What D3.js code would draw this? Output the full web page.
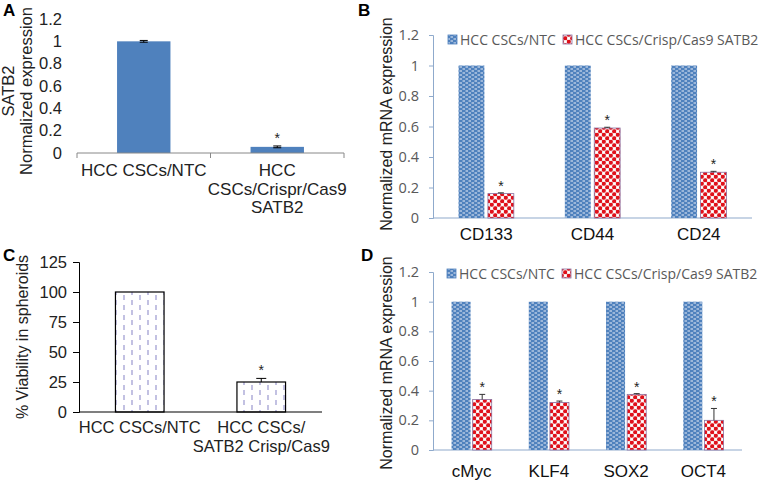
<!DOCTYPE html>
<html><head><meta charset="utf-8">
<script src="https://cdn.jsdelivr.net/npm/d3@7/dist/d3.min.js"></script>
<style>body{margin:0;background:#fff}svg{display:block}</style>
</head><body>
<svg id="c" width="776" height="483"></svg>
<script>
// ---------- DATA ----------
const aCategories = [["HCC CSCs/NTC"], ["HCC", "CSCs/Crispr/Cas9", "SATB2"]];
const aValues = [1.0, 0.055];
const aErrors = [0.008, 0.008];
const aTicks = [0, 0.2, 0.4, 0.6, 0.8, 1, 1.2];

const seriesNames = ["HCC CSCs/NTC", "HCC CSCs/Crisp/Cas9 SATB2"];

const bCategories = ["CD133", "CD44", "CD24"];
const bNTC = [1, 1, 1];
const bKO = [0.16, 0.59, 0.30];
const bKOErr = [0.005, 0.005, 0.006];
const bTicks = [0, 0.2, 0.4, 0.6, 0.8, 1, 1.2];

const cCategories = [["HCC CSCs/NTC"], ["HCC CSCs/", "SATB2 Crisp/Cas9"]];
const cValues = [100, 25];
const cErrors = [0, 3];
const cTicks = [0, 25, 50, 75, 100, 125];

const dCategories = ["cMyc", "KLF4", "SOX2", "OCT4"];
const dNTC = [1, 1, 1, 1];
const dKO = [0.34, 0.32, 0.375, 0.20];
const dKOErr = [0.035, 0.01, 0.005, 0.08];
const dTicks = [0, 0.2, 0.4, 0.6, 0.8, 1, 1.2];

// ---------- SETUP ----------
const svg = d3.select("#c");
const ARIAL = "'Liberation Sans', Arial, sans-serif";
const CAL = "'Open Sans', 'Noto Sans', sans-serif";
const defs = svg.append("defs");

// blue brick-dash pattern
const pb = defs.append("pattern").attr("id", "pBlue").attr("patternUnits", "userSpaceOnUse")
  .attr("width", 6).attr("height", 4);
pb.append("rect").attr("width", 6).attr("height", 4).attr("fill", "#4f81bd");
pb.append("rect").attr("x", 0.5).attr("y", 0.5).attr("width", 2.5).attr("height", 1).attr("fill", "#e8eef7");
pb.append("rect").attr("x", 3.5).attr("y", 2.5).attr("width", 2.5).attr("height", 1).attr("fill", "#e8eef7");

// red circle checker pattern
const pr = defs.append("pattern").attr("id", "pRed").attr("patternUnits", "userSpaceOnUse")
  .attr("width", 7).attr("height", 7);
pr.append("rect").attr("width", 7).attr("height", 7).attr("fill", "#f4d6d6");
pr.append("circle").attr("cx", 1.75).attr("cy", 1.75).attr("r", 2.1).attr("fill", "#e0101a");
pr.append("circle").attr("cx", 5.25).attr("cy", 5.25).attr("r", 2.1).attr("fill", "#e0101a");
pr.append("circle").attr("cx", 5.25).attr("cy", 1.75).attr("r", 1.2).attr("fill", "#fff");
pr.append("circle").attr("cx", 1.75).attr("cy", 5.25).attr("r", 1.2).attr("fill", "#fff");

// lavender dashed vertical pattern
const pl = defs.append("pattern").attr("id", "pLav").attr("patternUnits", "userSpaceOnUse")
  .attr("width", 16).attr("height", 10);
pl.append("rect").attr("width", 16).attr("height", 10).attr("fill", "#fff");
pl.append("line").attr("x1", 4).attr("x2", 4).attr("y1", 0).attr("y2", 5).attr("stroke", "#9a98cf").attr("stroke-width", 1.2);
pl.append("line").attr("x1", 12).attr("x2", 12).attr("y1", 5).attr("y2", 10).attr("stroke", "#9a98cf").attr("stroke-width", 1.2);

function panelLabel(t, x, y) {
  svg.append("text").attr("x", x).attr("y", y).text(t)
    .attr("font-family", ARIAL).attr("font-weight", "bold").attr("font-size", 17).attr("fill", "#000");
}
function rotLabel(lines, x, y, size, lh) {
  const t = svg.append("text").attr("transform", `translate(${x},${y}) rotate(-90)`)
    .attr("text-anchor", "middle").attr("font-family", ARIAL).attr("font-size", size).attr("fill", "#222");
  lines.forEach((l, i) => t.append("tspan").attr("x", 0).attr("dy", i === 0 ? 0 : lh).text(l));
}
function errBar(g, x, yTop, yBot, cap, color) {
  g.append("line").attr("x1", x).attr("x2", x).attr("y1", yTop).attr("y2", yBot).attr("stroke", color).attr("stroke-width", 1);
  g.append("line").attr("x1", x - cap).attr("x2", x + cap).attr("y1", yTop).attr("y2", yTop).attr("stroke", color).attr("stroke-width", 1);
}
function star(x, y) {
  svg.append("text").attr("x", x).attr("y", y).attr("text-anchor", "middle").text("*")
    .attr("font-family", ARIAL).attr("font-size", 14).attr("fill", "#222");
}

// ---------- PANEL A ----------
{
  const x = d3.scaleBand().domain(d3.range(aValues.length)).range([77, 344]).paddingInner(0.6).paddingOuter(0.3);
  const y = d3.scaleLinear().domain([0, 1.2]).range([153, 19]);
  const g = svg.append("g");
  const ya = d3.axisLeft(y).tickValues(aTicks).tickSize(0).tickPadding(8).tickFormat(d3.format("~g"));
  const yg = g.append("g").attr("transform", "translate(70,0)").call(ya);
  yg.select(".domain").remove();
  yg.selectAll("text").attr("font-family", ARIAL).attr("font-size", 16.5).attr("fill", "#222");
  g.selectAll("rect.bar").data(aValues).join("rect").attr("class", "bar")
    .attr("x", (d, i) => x(i)).attr("width", x.bandwidth())
    .attr("y", d => y(d)).attr("height", d => y(0) - y(d)).attr("fill", "#4f81bd");
  g.append("line").attr("x1", 77).attr("x2", 344).attr("y1", y(0)).attr("y2", y(0)).attr("stroke", "#888");
  [77, 210.5, 344].forEach(t => g.append("line").attr("x1", t).attr("x2", t).attr("y1", y(0)).attr("y2", y(0) + 5).attr("stroke", "#888"));
  aValues.forEach((v, i) => {
    const cx = x(i) + x.bandwidth() / 2;
    errBar(g, cx, y(v + aErrors[i]), y(v - aErrors[i]), 4, "#000");
    g.append("line").attr("x1", cx - 4).attr("x2", cx + 4).attr("y1", y(v - aErrors[i])).attr("y2", y(v - aErrors[i])).attr("stroke", "#000");
  });
  star(x(1) + x.bandwidth() / 2, y(aValues[1] + aErrors[1]) - 3);
  aCategories.forEach((lines, i) => {
    const cx = x(i) + x.bandwidth() / 2;
    const t = g.append("text").attr("x", cx).attr("y", 176).attr("text-anchor", "middle")
      .attr("font-family", ARIAL).attr("font-size", 17).attr("fill", "#222");
    lines.forEach((l, j) => t.append("tspan").attr("x", cx).attr("dy", j === 0 ? 0 : 18.5).text(l));
  });
  rotLabel(["SATB2", "Normalized expression"], 14, 91, 16.5, 18);
  panelLabel("A", 3, 16);
}

// ---------- grouped panels B / D ----------
function grouped(cats, ntc, ko, koErr, ticks, opt) {
  const x0 = d3.scaleBand().domain(cats).range([opt.x0, opt.x1]).paddingInner(opt.pad).paddingOuter(opt.pad / 2);
  const x1 = d3.scaleBand().domain([0, 1]).range([0, x0.bandwidth()]).paddingInner(opt.gap);
  const y = d3.scaleLinear().domain([0, 1.2]).range([opt.yb, opt.yt]);
  const g = svg.append("g");
  const axisCol = "#8faacc";
  const ya = d3.axisLeft(y).tickValues(ticks).tickSize(4).tickPadding(10).tickFormat(d3.format("~g"));
  const yg = g.append("g").attr("transform", `translate(${opt.x0},0)`).call(ya);
  yg.select(".domain").attr("stroke", axisCol);
  yg.selectAll(".tick line").attr("stroke", axisCol);
  yg.selectAll("text").attr("font-family", CAL).attr("font-size", 14.5).attr("fill", "#595959");
  g.append("line").attr("x1", opt.x0).attr("x2", opt.x1).attr("y1", y(0)).attr("y2", y(0)).attr("stroke", axisCol).attr("stroke-width", 1.2);
  cats.forEach((c, i) => {
    const bx = x0(c);
    g.append("rect").attr("x", bx + x1(0)).attr("width", x1.bandwidth())
      .attr("y", y(ntc[i])).attr("height", y(0) - y(ntc[i])).attr("fill", "url(#pBlue)");
    g.append("rect").attr("x", bx + x1(1)).attr("width", x1.bandwidth())
      .attr("y", y(ko[i])).attr("height", y(0) - y(ko[i])).attr("fill", "url(#pRed)")
      .attr("stroke", "#8a6f9e").attr("stroke-width", 0.8);
    const cx = bx + x1(1) + x1.bandwidth() / 2;
    errBar(g, cx, y(ko[i] + koErr[i]), y(ko[i]), 3, "#333");
    star(cx, y(ko[i] + koErr[i]) - 2);
    g.append("text").attr("x", bx + x0.bandwidth() / 2).attr("y", opt.labY).attr("text-anchor", "middle")
      .attr("font-family", ARIAL).attr("font-size", 17).attr("fill", "#111").text(c);
  });
  const lg = g.append("g").attr("transform", `translate(0,${opt.legY})`);
  const sw = [{ x: opt.legX, f: "url(#pBlue)", s: "#4f81bd" }, { x: opt.legX + 115, f: "url(#pRed)", s: "#8a6f9e" }];
  sw.forEach((s, i) => {
    lg.append("rect").attr("x", s.x).attr("y", -5).attr("width", 9).attr("height", 9).attr("fill", s.f).attr("stroke", s.s).attr("stroke-width", 0.8);
    lg.append("text").attr("x", s.x + 12).attr("y", 5).attr("font-family", CAL).attr("font-size", 14)
      .attr("fill", "#595959").text(seriesNames[i]);
  });
}
grouped(bCategories, bNTC, bKO, bKOErr, bTicks,
  { x0: 433, x1: 752, yb: 218, yt: 35, pad: 0.48, gap: 0.12, labY: 240, legY: 40, legX: 448 });
rotLabel(["Normalized mRNA expression"], 392, 124, 16, 0);
panelLabel("B", 358, 16);

grouped(dCategories, dNTC, dKO, dKOErr, dTicks,
  { x0: 433, x1: 742, yb: 450, yt: 272, pad: 0.48, gap: 0.1, labY: 477, legY: 274, legX: 447 });
rotLabel(["Normalized mRNA expression"], 392, 363, 16, 0);
panelLabel("D", 361, 261);

// ---------- PANEL C ----------
{
  const x = d3.scaleBand().domain(d3.range(cValues.length)).range([79, 322]).paddingInner(0.6).paddingOuter(0.3);
  const y = d3.scaleLinear().domain([0, 125]).range([412, 262]);
  const g = svg.append("g");
  const ya = d3.axisLeft(y).tickValues(cTicks).tickSize(6).tickPadding(6);
  const yg = g.append("g").attr("transform", "translate(79,0)").call(ya);
  yg.select(".domain").attr("stroke", "#000");
  yg.selectAll(".tick line").attr("stroke", "#000");
  yg.selectAll("text").attr("font-family", ARIAL).attr("font-size", 16.5).attr("fill", "#222");
  g.selectAll("rect.bar").data(cValues).join("rect").attr("class", "bar")
    .attr("x", (d, i) => x(i)).attr("width", x.bandwidth())
    .attr("y", d => y(d)).attr("height", d => y(0) - y(d))
    .attr("fill", "url(#pLav)").attr("stroke", "#000").attr("stroke-width", 1.2);
  g.append("line").attr("x1", 79).attr("x2", 322).attr("y1", y(0)).attr("y2", y(0)).attr("stroke", "#000").attr("stroke-width", 1.2);
  const cx2 = x(1) + x.bandwidth() / 2;
  errBar(g, cx2, y(cValues[1] + cErrors[1]), y(cValues[1]), 5, "#000");
  star(cx2, y(cValues[1] + cErrors[1]) - 3);
  cCategories.forEach((lines, i) => {
    const cx = x(i) + x.bandwidth() / 2;
    const t = g.append("text").attr("x", cx).attr("y", 433).attr("text-anchor", "middle")
      .attr("font-family", ARIAL).attr("font-size", 16.5).attr("fill", "#222");
    lines.forEach((l, j) => t.append("tspan").attr("x", cx).attr("dy", j === 0 ? 0 : 18.5).text(l));
  });
  rotLabel(["% Viability in spheroids"], 28, 337, 16, 0);
  panelLabel("C", 3, 261);
}
</script>
</body></html>
